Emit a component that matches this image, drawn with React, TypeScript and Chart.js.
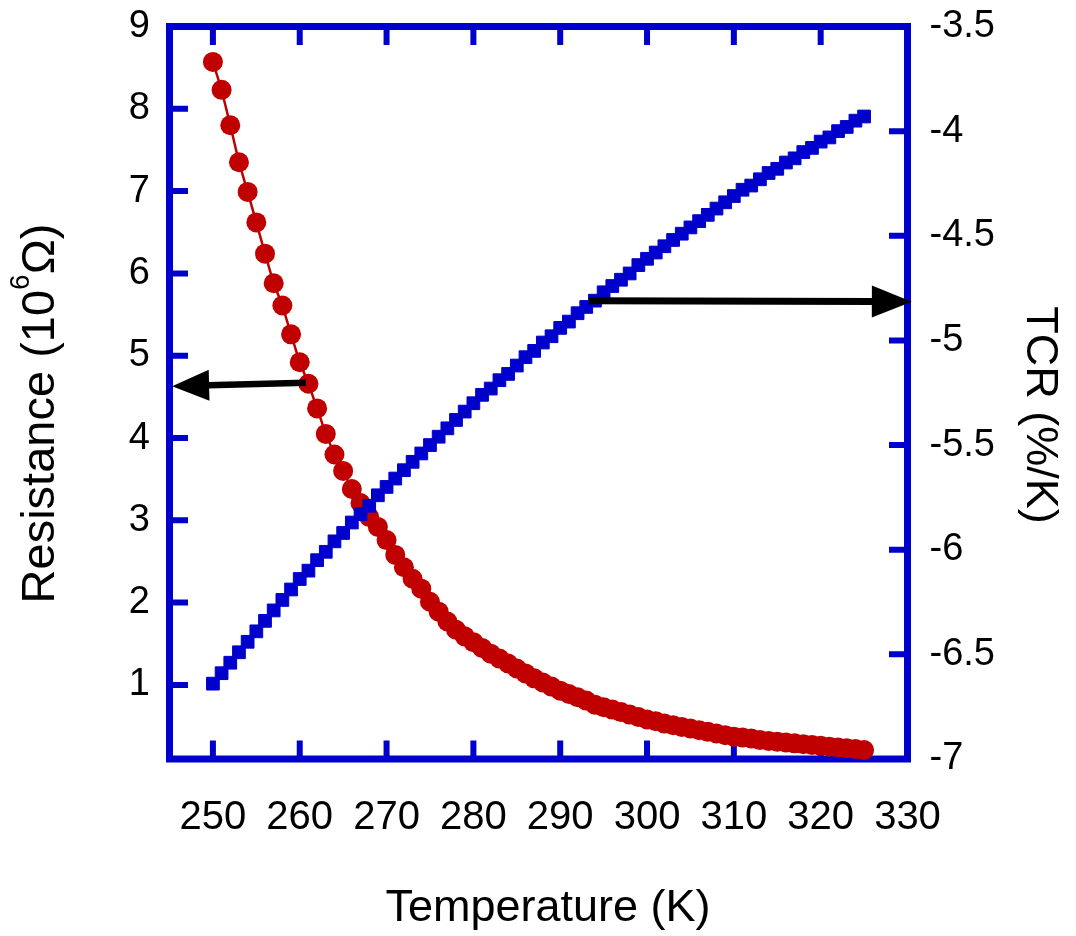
import React, { useEffect, useRef } from "react";
import { Chart, registerables } from "chart.js";

Chart.register(...registerables);

// Temperature sweep (K)
const temperatureK = [
  250, 251, 252, 253, 254, 255, 256, 257, 258, 259,
  260, 261, 262, 263, 264, 265, 266, 267, 268, 269,
  270, 271, 272, 273, 274, 275, 276, 277, 278, 279,
  280, 281, 282, 283, 284, 285, 286, 287, 288, 289,
  290, 291, 292, 293, 294, 295, 296, 297, 298, 299,
  300, 301, 302, 303, 304, 305, 306, 307, 308, 309,
  310, 311, 312, 313, 314, 315, 316, 317, 318, 319,
  320, 321, 322, 323, 324, 325,
];

// Resistance (10^6 Ohm)
const resistanceMOhm = [
  8.57, 8.23, 7.8, 7.35, 6.99, 6.62, 6.24, 5.88, 5.61, 5.26,
  4.92, 4.66, 4.36, 4.05, 3.8, 3.6, 3.38, 3.21, 3.04, 2.92,
  2.76, 2.58, 2.43, 2.29, 2.17, 2.01, 1.89, 1.77, 1.67, 1.59,
  1.52, 1.45, 1.38, 1.32, 1.26, 1.2, 1.14, 1.08, 1.03, 0.98,
  0.93, 0.89, 0.85, 0.81, 0.76, 0.73, 0.7, 0.67, 0.64, 0.61,
  0.58, 0.56, 0.53, 0.51, 0.49, 0.47, 0.45, 0.43, 0.41, 0.39,
  0.37, 0.36, 0.35, 0.33, 0.32, 0.31, 0.3, 0.29, 0.28, 0.27,
  0.26, 0.25, 0.24, 0.23, 0.22, 0.21,
];

// Temperature coefficient of resistance (%/K)
const tcrPercentPerK = [
  -6.64, -6.59, -6.54, -6.49, -6.44, -6.39, -6.34, -6.29, -6.24, -6.19,
  -6.14, -6.1, -6.05, -6.01, -5.96, -5.92, -5.87, -5.83, -5.79, -5.74,
  -5.7, -5.66, -5.62, -5.58, -5.54, -5.5, -5.46, -5.42, -5.38, -5.34,
  -5.3, -5.26, -5.23, -5.19, -5.16, -5.12, -5.08, -5.05, -5.01, -4.98,
  -4.94, -4.91, -4.87, -4.84, -4.81, -4.77, -4.74, -4.71, -4.68, -4.64,
  -4.61, -4.58, -4.55, -4.52, -4.49, -4.46, -4.43, -4.4, -4.37, -4.34,
  -4.31, -4.28, -4.26, -4.23, -4.2, -4.18, -4.15, -4.13, -4.1, -4.08,
  -4.05, -4.03, -4.0, -3.98, -3.95, -3.93,
];

// Tick values
const xTicks = [250, 260, 270, 280, 290, 300, 310, 320, 330];
const resistanceTicks = [1, 2, 3, 4, 5, 6, 7, 8, 9];
const tcrTicks = [-7, -6.5, -6, -5.5, -5, -4.5, -4, -3.5];

// Arrows pointing each curve to its axis (tail -> tip, data units)
const resistanceArrowT = [260.7, 245.3];
const resistanceArrowR = [4.67, 4.63];
const tcrArrowT = [293.3, 330.5];
const tcrArrowV = [-4.81, -4.815];

const FRAME = "#0000cc";
const RED = "#c00000";
const FONT = "'Liberation Sans', Arial, Helvetica, sans-serif";

function drawArrow(
  ctx: CanvasRenderingContext2D,
  x0: number, y0: number, x1: number, y1: number,
  headLen: number, headHalf: number, shaft: number
) {
  const a = Math.atan2(y1 - y0, x1 - x0);
  const bx = x1 - headLen * Math.cos(a);
  const by = y1 - headLen * Math.sin(a);
  ctx.save();
  ctx.strokeStyle = "#000";
  ctx.fillStyle = "#000";
  ctx.lineWidth = shaft;
  ctx.lineCap = "butt";
  ctx.beginPath();
  ctx.moveTo(x0, y0);
  ctx.lineTo(bx + Math.cos(a), by + Math.sin(a));
  ctx.stroke();
  ctx.beginPath();
  ctx.moveTo(x1, y1);
  ctx.lineTo(bx + headHalf * Math.sin(a), by - headHalf * Math.cos(a));
  ctx.lineTo(bx - headHalf * Math.sin(a), by + headHalf * Math.cos(a));
  ctx.closePath();
  ctx.fill();
  ctx.restore();
}

// Heavy blue frame with inward ticks on all four sides
const framePlugin = {
  id: "frame",
  beforeDatasetsDraw(chart: any) {
    const { ctx, chartArea: ca, scales } = chart;
    const { left, right, top, bottom } = ca;
    ctx.save();
    ctx.strokeStyle = FRAME;
    ctx.lineWidth = 7;
    ctx.lineCap = "butt";
    ctx.strokeRect(left, top, right - left, bottom - top);

    ctx.lineWidth = 6;
    const len = 18.5;
    const near = (p: number, e: number) => Math.abs(p - e) < 3;
    ctx.beginPath();
    for (const t of scales.x.ticks) {
      const px = scales.x.getPixelForValue(t.value);
      if (near(px, left) || near(px, right)) continue;
      ctx.moveTo(px, bottom);
      ctx.lineTo(px, bottom - len);
      ctx.moveTo(px, top);
      ctx.lineTo(px, top + len);
    }
    for (const t of scales.y.ticks) {
      const py = scales.y.getPixelForValue(t.value);
      if (near(py, top) || near(py, bottom)) continue;
      ctx.moveTo(left, py);
      ctx.lineTo(left + len, py);
    }
    for (const t of scales.y2.ticks) {
      const py = scales.y2.getPixelForValue(t.value);
      if (near(py, top) || near(py, bottom)) continue;
      ctx.moveTo(right, py);
      ctx.lineTo(right - len, py);
    }
    ctx.stroke();
    ctx.restore();
  },
};

// Black arrows linking each curve to its own axis
const arrowPlugin = {
  id: "axisArrows",
  afterDatasetsDraw(chart: any) {
    const { ctx, scales } = chart;
    const x = scales.x, yR = scales.y, yT = scales.y2;
    drawArrow(
      ctx,
      x.getPixelForValue(resistanceArrowT[0]), yR.getPixelForValue(resistanceArrowR[0]),
      x.getPixelForValue(resistanceArrowT[1]), yR.getPixelForValue(resistanceArrowR[1]),
      37, 15.5, 6.5
    );
    drawArrow(
      ctx,
      x.getPixelForValue(tcrArrowT[0]), yT.getPixelForValue(tcrArrowV[0]),
      x.getPixelForValue(tcrArrowT[1]), yT.getPixelForValue(tcrArrowV[1]),
      40, 16, 7
    );
  },
};

// Axis titles (the resistance title carries a raised "6" exponent)
const titlePlugin = {
  id: "axisTitles",
  afterDraw(chart: any) {
    const { ctx } = chart;
    ctx.save();
    ctx.fillStyle = "#000";
    ctx.textBaseline = "alphabetic";

    ctx.textAlign = "center";
    ctx.font = `45px ${FONT}`;
    ctx.fillText("Temperature (K)", 548, 921);

    ctx.save();
    ctx.translate(1027, 415);
    ctx.rotate(Math.PI / 2);
    ctx.fillText("TCR (%/K)", 0, 0);
    ctx.restore();

    ctx.save();
    ctx.textAlign = "left";
    const mainFont = `47px ${FONT}`;
    const supFont = `28px ${FONT}`;
    const partA = "Resistance (10";
    const partB = "6";
    const partC = "\u03A9)";
    ctx.font = mainFont;
    const wA = ctx.measureText(partA).width;
    const wC = ctx.measureText(partC).width;
    ctx.font = supFont;
    const wB = ctx.measureText(partB).width;
    const total = wA + wB + wC;
    ctx.translate(54, 413.5);
    ctx.rotate(-Math.PI / 2);
    let cx = -total / 2;
    ctx.font = mainFont;
    ctx.fillText(partA, cx, 0);
    cx += wA;
    ctx.font = supFont;
    ctx.fillText(partB, cx, -25);
    cx += wB;
    ctx.font = mainFont;
    ctx.fillText(partC, cx, 0);
    ctx.restore();

    ctx.restore();
  },
};

const noVerticalOverhang = (s: any) => {
  s.paddingTop = 0;
  s.paddingBottom = 0;
};

export default function App() {
  const canvasRef = useRef<HTMLCanvasElement | null>(null);

  useEffect(() => {
    const canvas = canvasRef.current;
    if (!canvas) return;

    const resistancePoints = temperatureK.map((t, i) => ({ x: t, y: resistanceMOhm[i] }));
    const tcrPoints = temperatureK.map((t, i) => ({ x: t, y: tcrPercentPerK[i] }));

    const chart = new Chart(canvas, {
      type: "line",
      data: {
        datasets: [
          {
            label: "TCR",
            data: tcrPoints,
            yAxisID: "y2",
            borderColor: FRAME,
            backgroundColor: FRAME,
            borderWidth: 3,
            pointStyle: "rect",
            pointRadius: 9,
            pointBorderWidth: 1,
            pointBorderColor: FRAME,
            pointBackgroundColor: FRAME,
            tension: 0,
            clip: false as any,
            order: 0,
          },
          {
            label: "Resistance",
            data: resistancePoints,
            yAxisID: "y",
            borderColor: RED,
            backgroundColor: RED,
            borderWidth: 2.5,
            pointStyle: "circle",
            pointRadius: 10,
            pointBorderWidth: 0,
            pointBackgroundColor: RED,
            tension: 0,
            clip: false as any,
            order: 1,
          },
        ],
      },
      options: {
        animation: false,
        responsive: false,
        events: [],
        layout: { padding: { top: 26.5, left: 0, right: 0, bottom: 0 } },
        plugins: {
          legend: { display: false },
          tooltip: { enabled: false },
        },
        scales: {
          x: {
            type: "linear",
            position: "bottom",
            min: 245,
            max: 330,
            afterBuildTicks: (s: any) => {
              s.ticks = xTicks.map((v) => ({ value: v }));
            },
            afterFit: (s: any) => {
              s.height = 177;
              s.paddingLeft = 0;
              s.paddingRight = 0;
            },
            grid: { display: false, drawTicks: false },
            border: { display: false },
            ticks: {
              padding: 35,
              color: "#000",
              font: { family: FONT, size: 40 },
              maxRotation: 0,
              autoSkip: false,
              callback: (v: any) => String(v),
            },
          },
          y: {
            type: "linear",
            position: "left",
            min: 0.1,
            max: 9,
            afterBuildTicks: (s: any) => {
              s.ticks = resistanceTicks.map((v) => ({ value: v }));
            },
            afterFit: (s: any) => {
              s.width = 169.5;
              noVerticalOverhang(s);
            },
            grid: { display: false, drawTicks: false },
            border: { display: false },
            ticks: {
              padding: 19.5,
              color: "#000",
              font: { family: FONT, size: 38 },
              autoSkip: false,
              callback: (v: any) => String(v),
            },
          },
          y2: {
            type: "linear",
            position: "right",
            min: -7,
            max: -3.5,
            afterBuildTicks: (s: any) => {
              s.ticks = tcrTicks.map((v) => ({ value: v }));
            },
            afterFit: (s: any) => {
              s.width = 168.5;
              noVerticalOverhang(s);
            },
            grid: { display: false, drawTicks: false },
            border: { display: false },
            ticks: {
              padding: 22,
              color: "#000",
              font: { family: FONT, size: 38 },
              autoSkip: false,
              callback: (v: any) => String(v),
            },
          },
        },
      } as any,
      plugins: [framePlugin, arrowPlugin, titlePlugin],
    });

    return () => chart.destroy();
  }, []);

  return (
    <div style={{ position: "fixed", left: 0, top: 0, width: 1076, height: 936, background: "#fff" }}>
      <canvas ref={canvasRef} width={1076} height={936} style={{ display: "block" }} />
    </div>
  );
}
